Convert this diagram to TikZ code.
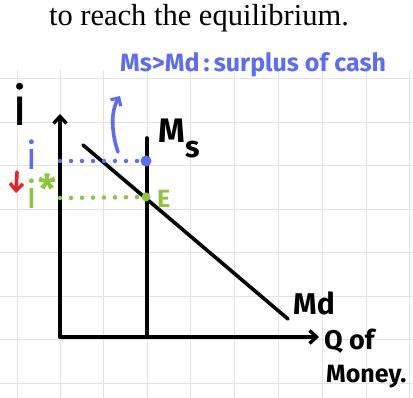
\documentclass[tikz,border=0pt]{standalone}
\usepackage{fontspec}
\setmainfont{Liberation Serif}
\newfontfamily\hand{Fira Sans}
\usetikzlibrary{arrows.meta}
\definecolor{penblue}{HTML}{5B6CF5}
\definecolor{pengreen}{HTML}{8CC63F}
\definecolor{penred}{HTML}{E8202A}
\definecolor{gridgray}{HTML}{E2E2E2}
\begin{document}
\begin{tikzpicture}[x=1pt,y=-1pt,
  ink/.style={line width=3.6pt,line cap=round,line join=round},
  dotline/.style={line width=4.5pt,line cap=round,dash pattern=on 0pt off 11pt},
  hw/.style={font=\hand\bfseries,inner sep=0pt,anchor=base west},
  tipv/.style={-{Straight Barb[length=7pt,width=13pt,line width=3.4pt]}}]
\useasboundingbox (0,0) rectangle (413,398);
\fill[white] (0,0) rectangle (413,398);
% grid
\foreach \x in {17,60,103.5,147,190.5,234,278,322,366,409.5}
  \draw[gridgray,line width=1pt] (\x,70) -- (\x,398);
\foreach \y in {79,122.5,166,209.5,253,296.5,340,383.5}
  \draw[gridgray,line width=1pt] (0,\y) -- (413,\y);
% title
\node[font=\fontsize{30.5}{32}\selectfont,inner sep=0pt,anchor=base] (title) at (199,26) {to reach the equilibrium.};
% coordinates
\coordinate (O) at (60,337);
\coordinate (ytop) at (60,114);
\coordinate (xend) at (319,337);
\coordinate (msT) at (147,138);
\coordinate (msB) at (147,337);
\coordinate (mdA) at (83,145);
\coordinate (mdB) at (288,319);
\coordinate (yi) at (60,161);
\coordinate (yis) at (60,198);
% axes and curves
\draw[ink,tipv] (O) -- (ytop);
\draw[ink,tipv] (O) -- (xend);
\draw[ink] (msB) -- (msT);
\draw[ink] (mdA) -- (mdB);
% dotted lines
\node[circle,fill=penblue,inner sep=0pt,minimum size=11pt] (dB) at (146,161) {};
\node[circle,fill=pengreen,inner sep=0pt,minimum size=9pt] (dE) at (146,197) {};
\draw[penblue,dotline] (yi) -- (dB);
\draw[pengreen,dotline] (yis) -- (dE);
% labels
\node[hw,font=\hand\fontsize{54}{54}\selectfont,anchor=base] (i0) at (20,126) {i};
\node[hw,font=\hand\bfseries\fontsize{34}{34}\selectfont] (msl) at (158,143) {M};
\node[hw,font=\hand\bfseries\fontsize{30}{30}\selectfont] (msl2) at (185,158) {s};
\node[hw,text=pengreen,font=\hand\bfseries\fontsize{25}{25}\selectfont] (el) at (157,208) {E};
\node[hw,font=\hand\bfseries\fontsize{30}{30}\selectfont] (mdl) at (293,315) {Md};
\node[hw,font=\hand\bfseries\fontsize{27}{27}\selectfont] (ql) at (324,350) {Q of};
\node[hw,font=\hand\bfseries\fontsize{25}{25}\selectfont] (moneyl) at (326,383) {Money.};
\node[hw,text=penblue,font=\hand\bfseries\fontsize{25}{25}\selectfont] (surplus) at (120,72) {Ms>Md\,:\,surplus of cash};
% blue i and green i*
\node[hw,text=penblue,font=\hand\fontsize{38}{38}\selectfont,anchor=base] (ib) at (32,170) {i};
\node[hw,text=pengreen,font=\hand\fontsize{38}{38}\selectfont,anchor=base] (ig) at (32,209) {i};
\node[text=pengreen,font=\hand\bfseries\fontsize{40}{40}\selectfont,inner sep=0pt] (star) at (47,189) {*};
% red arrow
\coordinate (rA) at (17,172);
\coordinate (rB) at (16,193);
\draw[penred,ink,tipv] (rA) -- (rB);
% blue curved arrow
\coordinate (cA) at (118,152);
\coordinate (cB) at (120,96);
\draw[penblue,ink,-{Straight Barb[length=6pt,width=12pt,line width=3.2pt]}] (cA) .. controls (112,135) and (110,112) .. (cB);
\end{tikzpicture}
\end{document}
